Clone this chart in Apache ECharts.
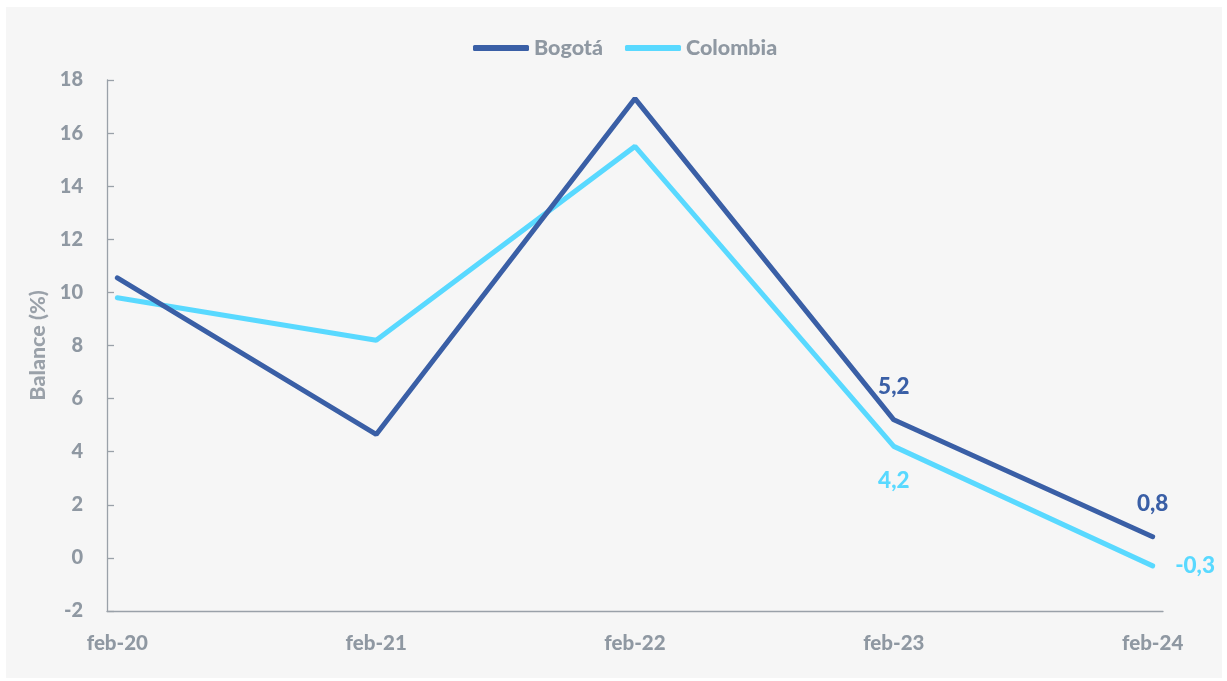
<!DOCTYPE html>
<html><head><meta charset="utf-8">
<script src="https://cdn.jsdelivr.net/npm/echarts@6/dist/echarts.min.js"></script>
<style>
html,body{margin:0;padding:0;background:#fff;width:1227px;height:681px;overflow:hidden}
#panel{position:absolute;left:6px;top:7px;width:1216px;height:671px;background:#f6f6f6}
#c{position:absolute;left:0;top:0;width:1227px;height:681px}
</style></head>
<body><div id="panel"></div><div id="c"></div>
<script>
const categories = ['feb-20','feb-21','feb-22','feb-23','feb-24'];
const bogota = [10.55, 4.65, 17.3, 5.2, 0.8];
const colombia = [9.8, 8.2, 15.5, 4.2, -0.3];
const bogotaLabels = ['', '', '', '5,2', '0,8'];
const colombiaLabels = ['', '', '', '4,2', '-0,3'];
const yTicks = [-2, 0, 2, 4, 6, 8, 10, 12, 14, 16, 18];

const gray = '#8f98a2';
const font = 'Lato';
const chart = echarts.init(document.getElementById('c'), null, {renderer:'canvas'});

function pts(vals, labels, pos) {
  return vals.map((v, i) => {
    const p = {value: [i, v]};
    if (labels[i]) {
      p.label = {show: true, formatter: labels[i], position: pos[i] || 'top'};
    }
    return p;
  });
}

chart.setOption({
  backgroundColor: 'transparent',
  animation: false,
  textStyle: {fontFamily: font},
  legend: {
    top: 32, left: 468,
    itemWidth: 56, itemHeight: 6, itemGap: 22,
    icon: 'roundRect',
    textStyle: {color: gray, fontSize: 21.5, fontWeight: 900, fontFamily: font},
    data: ['Bogotá', 'Colombia']
  },
  grid: {left: 107, right: 64, top: 80, bottom: 70},
  xAxis: [{
    type: 'value', min: -0.04, max: 4.04,
    axisLine: {show: false}, axisTick: {show: false}, splitLine: {show: false},
    axisLabel: {
      margin: 22, color: gray, fontSize: 20.5, fontWeight: 900, fontFamily: font,
      customValues: [0, 1, 2, 3, 4],
      formatter: v => categories[Math.round(v)] || ''
    }
  }, {
    type: 'value', min: -0.04, max: 4.04, position: 'bottom',
    axisLine: {show: true, onZero: true, lineStyle: {color: '#9aa1a9', width: 1.3}},
    axisTick: {show: false}, axisLabel: {show: false}, splitLine: {show: false}
  }],
  yAxis: {
    type: 'value', min: -2, max: 18, interval: 2,
    name: 'Balance (%)', nameLocation: 'middle', nameGap: 46,
    nameTextStyle: {color: '#9aa1a9', fontSize: 21.5, fontWeight: 900, fontFamily: font},
    axisLine: {show: true, onZero: false, lineStyle: {color: '#9aa1a9', width: 1.3}},
    axisTick: {show: true, inside: true, length: 7, lineStyle: {color: '#9aa1a9', width: 1.3}},
    splitLine: {show: false},
    axisLabel: {margin: 24, color: gray, fontSize: 20, fontWeight: 900, fontFamily: font,
      formatter: v => yTicks.includes(v) ? String(v) : ''}
  },
  series: [{
    name: 'Bogotá', type: 'line', xAxisIndex: 0,
    data: pts(bogota, bogotaLabels, {3: 'top', 4: 'top'}),
    symbol: 'circle', symbolSize: 1, showSymbol: true,
    itemStyle: {color: '#3a5fa6'},
    lineStyle: {color: '#3a5fa6', width: 5, cap: 'round'},
    label: {show: false, color: '#3a5fa6', fontSize: 22.5, fontWeight: 900, fontFamily: font, distance: 21},
    z: 3
  }, {
    name: 'Colombia', type: 'line', xAxisIndex: 0,
    data: pts(colombia, colombiaLabels, {3: 'bottom', 4: 'right'}),
    symbol: 'circle', symbolSize: 1, showSymbol: true,
    itemStyle: {color: '#59d9ff'},
    lineStyle: {color: '#59d9ff', width: 5, cap: 'round'},
    label: {show: false, color: '#59d9ff', fontSize: 22.5, fontWeight: 900, fontFamily: font, distance: 22},
    z: 2
  }]
});
</script></body></html>
